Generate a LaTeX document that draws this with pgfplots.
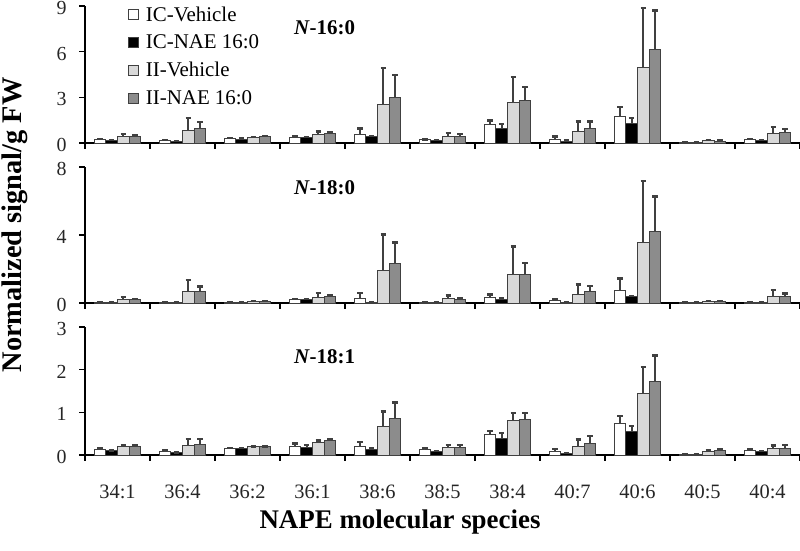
\documentclass[border=0pt]{standalone}
\usepackage{pgfplots}
\usepackage{pgfplotstable}
\pgfplotsset{compat=1.18}
\usepackage{fontspec}
\setmainfont{Liberation Serif}
\definecolor{lg}{HTML}{D9D9D9}
\definecolor{mg}{HTML}{8C8C8C}
\definecolor{eg}{HTML}{404040}

% columns: x, IC-Vehicle, err, IC-NAE, err, II-Vehicle, err, II-NAE, err
\pgfplotstableread{
x icv icve icn icne iiv iive iin iine
0 0.20 0.05 0.15 0.03 0.42 0.18 0.45 0.08
1 0.15 0.05 0.10 0.03 0.84 0.81 0.97 0.40
2 0.28 0.04 0.25 0.04 0.35 0.05 0.42 0.05
3 0.38 0.05 0.35 0.04 0.57 0.18 0.62 0.08
4 0.57 0.38 0.40 0.05 2.56 2.36 3.02 1.44
5 0.20 0.04 0.15 0.03 0.45 0.22 0.45 0.13
6 1.19 0.29 0.97 0.27 2.67 1.66 2.80 0.86
7 0.22 0.20 0.13 0.03 0.73 0.68 0.93 0.48
8 1.77 0.61 1.30 0.36 4.99 3.88 6.14 2.56
9 0.03 0.02 0.05 0.02 0.15 0.05 0.13 0.07
10 0.22 0.06 0.18 0.03 0.64 0.42 0.68 0.22
}\tabA
\pgfplotstableread{
x icv icve icn icne iiv iive iin iine
0 0.02 0.01 0.02 0.01 0.23 0.14 0.20 0.03
1 0.03 0.01 0.01 0.01 0.65 0.72 0.65 0.33
2 0.02 0.01 0.02 0.01 0.10 0.03 0.08 0.02
3 0.20 0.03 0.20 0.02 0.30 0.30 0.41 0.05
4 0.24 0.36 0.02 0.01 1.90 2.14 2.33 1.24
5 0.02 0.01 0.02 0.01 0.25 0.20 0.22 0.05
6 0.35 0.14 0.23 0.03 1.69 1.64 1.69 0.68
7 0.13 0.07 0.02 0.01 0.49 0.59 0.65 0.35
8 0.75 0.70 0.37 0.05 3.55 3.61 4.20 2.07
9 0.02 0.01 0.02 0.01 0.08 0.03 0.08 0.03
10 0.05 0.02 0.03 0.01 0.37 0.38 0.37 0.18
}\tabB
\pgfplotstableread{
x icv icve icn icne iiv iive iin iine
0 0.14 0.02 0.10 0.01 0.19 0.03 0.19 0.03
1 0.09 0.02 0.05 0.01 0.23 0.14 0.24 0.13
2 0.16 0.01 0.15 0.01 0.19 0.01 0.19 0.01
3 0.20 0.07 0.18 0.05 0.30 0.04 0.34 0.03
4 0.19 0.12 0.14 0.02 0.66 0.36 0.85 0.38
5 0.13 0.03 0.09 0.01 0.18 0.05 0.18 0.05
6 0.48 0.08 0.39 0.13 0.80 0.18 0.83 0.16
7 0.09 0.05 0.04 0.01 0.20 0.16 0.28 0.16
8 0.73 0.18 0.55 0.13 1.45 0.61 1.72 0.61
9 0.02 0.01 0.02 0.01 0.08 0.04 0.10 0.04
10 0.10 0.03 0.08 0.01 0.16 0.06 0.16 0.07
}\tabC

\pgfplotsset{
  nape/.style={
    scale only axis, width=715bp,
    xmin=-0.5, xmax=10.5, ymin=0, clip=false,
    axis x line*=bottom, axis y line*=left,
    axis line style={-, line width=1.2bp, black},
    tick align=outside,
    xtick={0,1,2,3,4,5,6,7,8,9,10}, xticklabels={},
    major x tick style={draw=none},
    minor xtick={-0.5,0.5,1.5,2.5,3.5,4.5,5.5,6.5,7.5,8.5,9.5,10.5},
    minor tick length=6bp, major tick length=6bp,
    minor x tick style={line width=1.2bp, black},
    y tick style={line width=1.2bp, black},
    /pgf/number format/assume math mode=true,
    yticklabel style={font=\fontsize{20}{24}\selectfont, text=black!85, xshift=-9bp, yshift=-2bp},
    xticklabel style={font=\fontsize{20.5}{24}\selectfont, text=black!85, yshift=-20bp},
    legend image code/.code={\draw[#1, line width=0.8bp] (0bp,-5bp) rectangle (10bp,5bp);},
  },
  bb/.style={ybar, bar width=0.18, bar shift=0pt, draw=eg, line width=0.9bp,
      error bars/y dir=plus, error bars/y explicit,
      error bars/error bar style={draw=eg, line width=1.8bp},
      error bars/error mark options={draw=eg, line width=2.4bp, mark size=2.8bp, rotate=90}},
  s1/.style={bb, fill=white},
  s2/.style={bb, fill=black},
  s3/.style={bb, fill=lg},
  s4/.style={bb, fill=mg},
}

\begin{document}
\begin{tikzpicture}[x=1bp,y=1bp]
\useasboundingbox (0,0) rectangle (800,551);

% top panel
\begin{axis}[nape, at={(85bp,408bp)}, anchor=south west, height=137bp,
  ymax=9, ytick={0,3,6,9},
  legend style={at={(rel axis cs:0.06,1.01)}, anchor=north west, draw=none, fill=none,
    font=\fontsize{21}{25}\selectfont, row sep=8bp, inner sep=0pt},
  legend cell align=left]
\addplot[s1] table[x expr=\thisrow{x}-0.27, y=icv, y error=icve] {\tabA};
\addlegendentry{\hspace{5bp}IC-Vehicle}
\addplot[s2] table[x expr=\thisrow{x}-0.09, y=icn, y error=icne] {\tabA};
\addlegendentry{\hspace{5bp}IC-NAE 16:0}
\addplot[s3] table[x expr=\thisrow{x}+0.09, y=iiv, y error=iive] {\tabA};
\addlegendentry{\hspace{5bp}II-Vehicle}
\addplot[s4] table[x expr=\thisrow{x}+0.27, y=iin, y error=iine] {\tabA};
\addlegendentry{\hspace{5bp}II-NAE 16:0}
\node[font=\bfseries\fontsize{21}{25}\selectfont] at (rel axis cs:0.335,0.84) {\textit{N}-16:0};
\end{axis}

% middle panel
\begin{axis}[nape, at={(85bp,248bp)}, anchor=south west, height=136bp,
  ymax=8, ytick={0,4,8}]
\addplot[s1] table[x expr=\thisrow{x}-0.27, y=icv, y error=icve] {\tabB};
\addplot[s2] table[x expr=\thisrow{x}-0.09, y=icn, y error=icne] {\tabB};
\addplot[s3] table[x expr=\thisrow{x}+0.09, y=iiv, y error=iive] {\tabB};
\addplot[s4] table[x expr=\thisrow{x}+0.27, y=iin, y error=iine] {\tabB};
\node[font=\bfseries\fontsize{21}{25}\selectfont] at (rel axis cs:0.335,0.845) {\textit{N}-18:0};
\end{axis}

% bottom panel
\begin{axis}[nape, at={(85bp,96bp)}, anchor=south west, height=128bp,
  ymax=3, ytick={0,1,2,3},
  xticklabels={34:1,36:4,36:2,36:1,38:6,38:5,38:4,40:7,40:6,40:5,40:4}]
\addplot[s1] table[x expr=\thisrow{x}-0.27, y=icv, y error=icve] {\tabC};
\addplot[s2] table[x expr=\thisrow{x}-0.09, y=icn, y error=icne] {\tabC};
\addplot[s3] table[x expr=\thisrow{x}+0.09, y=iiv, y error=iive] {\tabC};
\addplot[s4] table[x expr=\thisrow{x}+0.27, y=iin, y error=iine] {\tabC};
\node[font=\bfseries\fontsize{21}{25}\selectfont] at (rel axis cs:0.335,0.77) {\textit{N}-18:1};
\end{axis}

\node[rotate=90, font=\bfseries\fontsize{28.5}{33}\selectfont] at (15,326) {Normalized signal/g FW};
\node[font=\bfseries\fontsize{27}{32}\selectfont] at (400,29) {NAPE molecular species};
\end{tikzpicture}
\end{document}
